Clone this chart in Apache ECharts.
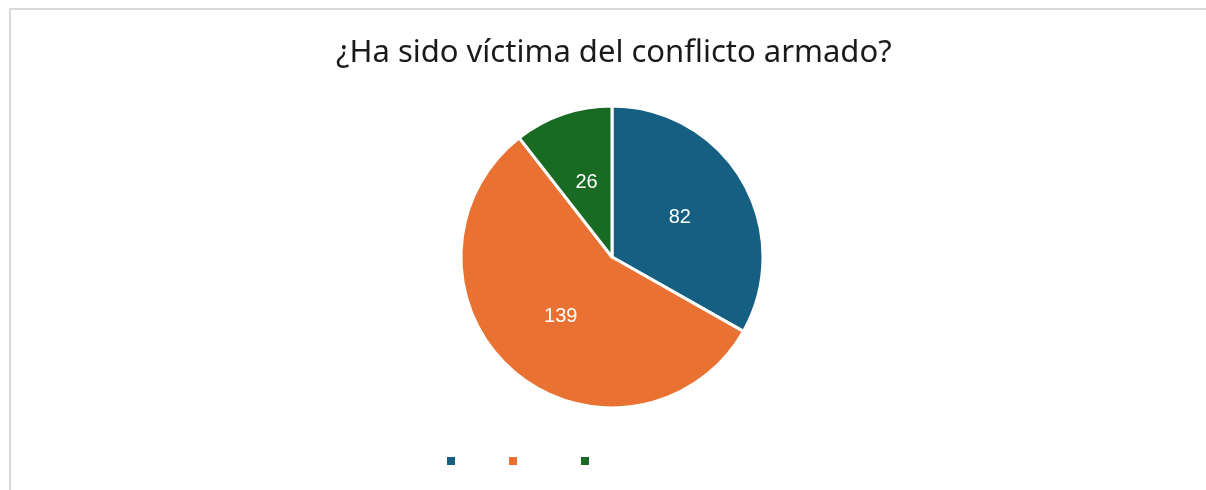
<!DOCTYPE html>
<html>
<head>
<meta charset="utf-8">
<script src="https://cdn.jsdelivr.net/npm/echarts@6/dist/echarts.min.js"></script>
<style>
    html, body { margin: 0; padding: 0; background: #ffffff; }
    #victimas { width: 1206px; height: 490px; position: relative; }
    #marco {
        position: absolute; left: 9px; top: 8px; width: 1220px; height: 500px;
        border-left: 2px solid #d9d9d9; border-top: 2px solid #d9d9d9;
        pointer-events: none;
    }
</style>
</head>
<body>
<div id="victimas"></div>
<div id="marco"></div>
<script>
// respuestas a la pregunta
const data = [
    { name: 'Sí', value: 82, color: '#156082', leyendaX: 440 },
    { name: 'No', value: 139, color: '#E97132', leyendaX: 502 },
    { name: 'No responde', value: 26, color: '#196B24', leyendaX: 574 }
];

const chart = echarts.init(document.getElementById('victimas'));

// una leyenda por respuesta, el texto queda en blanco como en el original
const legends = data.map(d => ({
    left: d.leyendaX,
    top: 450,
    icon: 'rect',
    itemWidth: 10,
    itemHeight: 10,
    selectedMode: false,
    data: [d.name],
    textStyle: { fontSize: 12, color: 'rgba(255,255,255,0)' }
}));

const option = {
    backgroundColor: '#ffffff',
    animation: false,
    title: {
        text: '¿Ha sido víctima del conflicto armado?',
        left: 331,
        top: 33,
        textStyle: {
            fontFamily: 'Noto Sans',
            fontSize: 31,
            fontWeight: 'normal',
            color: '#1a1a1a'
        }
    },
    legend: legends,
    series: [
        {
            type: 'pie',
            center: [612, 257],
            radius: 151,
            startAngle: 90,
            clockwise: true,
            data: data.map(d => ({ name: d.name, value: d.value, itemStyle: { color: d.color } })),
            itemStyle: {
                borderColor: '#ffffff',
                borderWidth: 3
            },
            label: {
                show: true,
                position: 'inside',
                formatter: '{c}',
                color: '#ffffff',
                fontFamily: 'Liberation Sans',
                fontSize: 20,
                padding: [4, 0, 0, 0]
            },
            labelLine: { show: false },
            emphasis: { disabled: true }
        }
    ]
};

chart.setOption(option);
</script>
</body>
</html>
